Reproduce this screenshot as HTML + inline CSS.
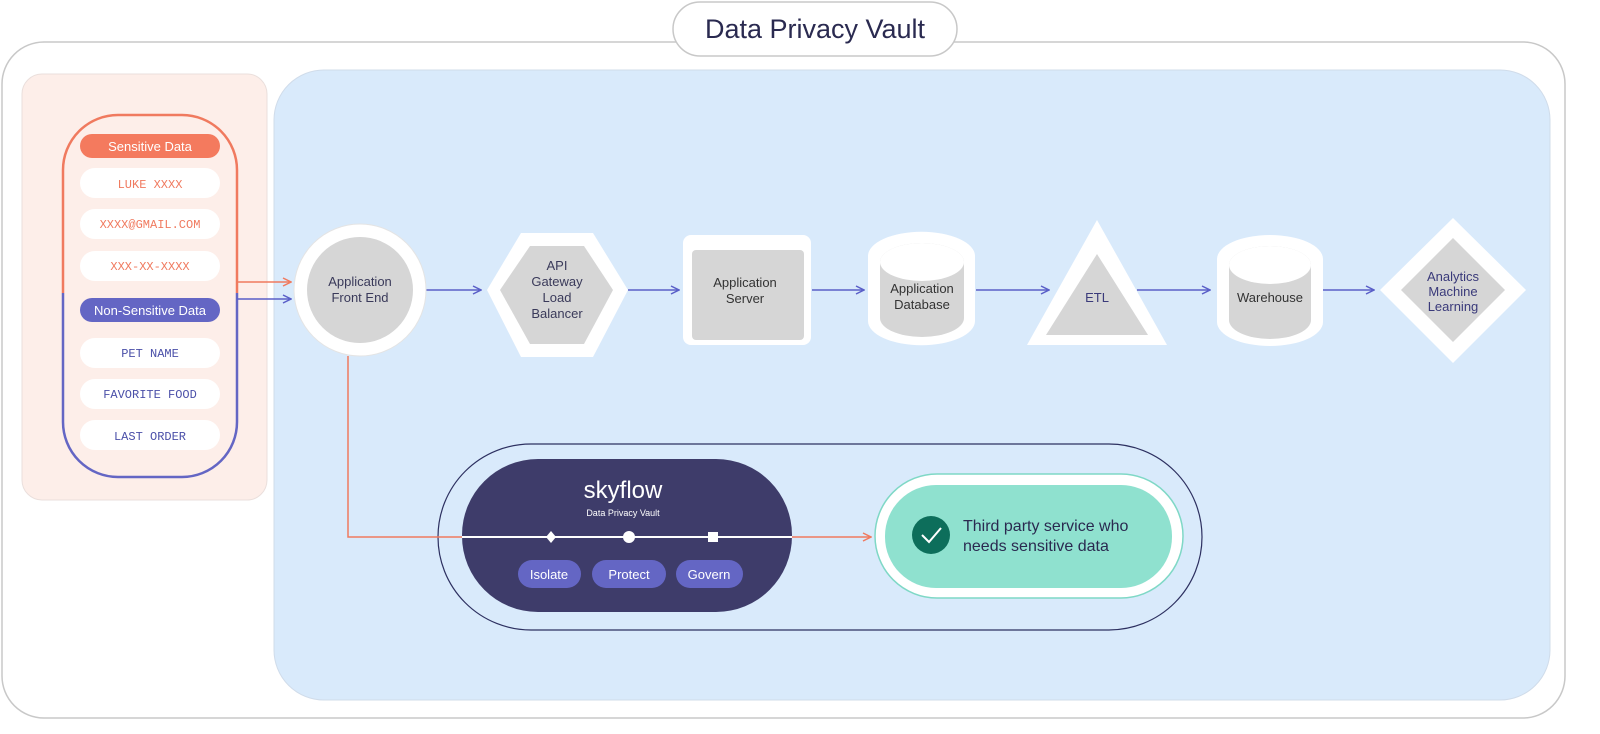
<!DOCTYPE html><html><head><meta charset="utf-8"><style>body{margin:0;background:#fff}svg{display:block}text{font-family:"Liberation Sans",sans-serif}</style></head><body>
<svg width="1600" height="734" viewBox="0 0 1600 734" xmlns="http://www.w3.org/2000/svg">
<defs>
<marker id="ap" markerWidth="10" markerHeight="10" refX="9" refY="5" orient="auto" markerUnits="userSpaceOnUse"><path d="M1,1 L9,5 L1,9" fill="none" stroke="#5a5fc8" stroke-width="1.5"/></marker>
<marker id="ao" markerWidth="10" markerHeight="10" refX="9" refY="5" orient="auto" markerUnits="userSpaceOnUse"><path d="M1,1 L9,5 L1,9" fill="none" stroke="#f07a5f" stroke-width="1.5"/></marker>
</defs>
<rect x="2" y="42" width="1563" height="676" rx="42" fill="#fff" stroke="#c8c8c8" stroke-width="1.5"/>
<rect x="673" y="2" width="284" height="54" rx="27" fill="#fff" stroke="#c8c8c8" stroke-width="1.5"/>
<text x="815" y="38" font-size="27" fill="#2a2a50" text-anchor="middle">Data Privacy Vault</text>
<rect x="22" y="74" width="245" height="426" rx="20" fill="#fdeee9" stroke="#eadfdc"/>
<rect x="274" y="70" width="1276" height="630" rx="50" fill="#d9eafb" stroke="#d0dcea"/>
<!-- capsule -->
<path d="M63,293 V170 A55,55 0 0 1 118,115 H182 A55,55 0 0 1 237,170 V293" fill="none" stroke="#f07a5f" stroke-width="2.5"/>
<path d="M63,293 V422 A55,55 0 0 0 118,477 H182 A55,55 0 0 0 237,422 V293" fill="none" stroke="#6466c4" stroke-width="2.5"/>
<rect x="80" y="134" width="140" height="24" rx="12" fill="#f47a5e"/>
<text x="150" y="151" font-size="13" fill="#fff" text-anchor="middle">Sensitive Data</text>
<rect x="80" y="298" width="140" height="24" rx="12" fill="#6466c4"/>
<text x="150" y="315" font-size="13" fill="#fff" text-anchor="middle">Non-Sensitive Data</text>
<g font-family="Liberation Mono,monospace" font-size="12" text-anchor="middle">
<rect x="80" y="168" width="140" height="30" rx="15" fill="#fff"/><text x="150" y="188" fill="#f07a5f" style="font-family:'Liberation Mono',monospace">LUKE XXXX</text>
<rect x="80" y="209" width="140" height="30" rx="15" fill="#fff"/><text x="150" y="228" fill="#f07a5f" style="font-family:'Liberation Mono',monospace">XXXX@GMAIL.COM</text>
<rect x="80" y="251" width="140" height="30" rx="15" fill="#fff"/><text x="150" y="270" fill="#f07a5f" style="font-family:'Liberation Mono',monospace">XXX-XX-XXXX</text>
<rect x="80" y="338" width="140" height="30" rx="15" fill="#fff"/><text x="150" y="357" fill="#4a4fa8" style="font-family:'Liberation Mono',monospace">PET NAME</text>
<rect x="80" y="379" width="140" height="30" rx="15" fill="#fff"/><text x="150" y="398" fill="#4a4fa8" style="font-family:'Liberation Mono',monospace">FAVORITE FOOD</text>
<rect x="80" y="420" width="140" height="30" rx="15" fill="#fff"/><text x="150" y="440" fill="#4a4fa8" style="font-family:'Liberation Mono',monospace">LAST ORDER</text>
</g>
<!-- arrows -->
<line x1="237" y1="282" x2="291" y2="282" stroke="#f07a5f" stroke-width="1.5" marker-end="url(#ao)"/>
<line x1="237" y1="299" x2="291" y2="299" stroke="#5a5fc8" stroke-width="1.5" marker-end="url(#ap)"/>
<g stroke="#5a5fc8" stroke-width="1.5" fill="none">
<line x1="426" y1="290" x2="481" y2="290" marker-end="url(#ap)"/>
<line x1="628" y1="290" x2="679" y2="290" marker-end="url(#ap)"/>
<line x1="812" y1="290" x2="864" y2="290" marker-end="url(#ap)"/>
<line x1="976" y1="290" x2="1049" y2="290" marker-end="url(#ap)"/>
<line x1="1137" y1="290" x2="1210" y2="290" marker-end="url(#ap)"/>
<line x1="1323" y1="290" x2="1374" y2="290" marker-end="url(#ap)"/>
</g>
<!-- nodes -->
<g font-size="13" fill="#333" text-anchor="middle">
<circle cx="360" cy="290" r="66" fill="#fff" stroke="#e4e4e4"/><circle cx="360" cy="290" r="53" fill="#d6d6d6"/>
<text x="360" y="286" fill="#3a3a5a">Application</text><text x="360" y="302" fill="#3a3a5a">Front End</text>
<polygon points="521,233 593,233 628,290 593,357 521,357 487,290" fill="#fff"/>
<polygon points="530,246 584,246 613,290 584,344 530,344 500,290" fill="#d6d6d6"/>
<text x="557" y="270" fill="#3a3a5a">API</text><text x="557" y="286" fill="#3a3a5a">Gateway</text><text x="557" y="302" fill="#3a3a5a">Load</text><text x="557" y="318" fill="#3a3a5a">Balancer</text>
<rect x="683" y="235" width="128" height="110" rx="8" fill="#fff"/><rect x="692" y="250" width="112" height="90" rx="4" fill="#d6d6d6"/>
<text x="745" y="287" fill="#333">Application</text><text x="745" y="303" fill="#333">Server</text>
<path d="M868,256 A53,24 0 0 1 975,256 V321 A53,24 0 0 1 868,321 Z" fill="#fff"/>
<path d="M880,262 A42,19 0 0 1 964,262 V318 A42,19 0 0 1 880,318 Z" fill="#d6d6d6"/>
<ellipse cx="922" cy="262" rx="42" ry="19" fill="#fff"/>
<text x="922" y="293" fill="#333">Application</text><text x="922" y="309" fill="#333">Database</text>
<polygon points="1097,220 1167,345 1027,345" fill="#fff"/><polygon points="1097,254 1148,335 1046,335" fill="#d6d6d6"/>
<text x="1097" y="302" fill="#3a3a7a">ETL</text>
<path d="M1217,259 A53,24 0 0 1 1323,259 V322 A53,24 0 0 1 1217,322 Z" fill="#fff"/>
<path d="M1229,265 A41,19 0 0 1 1311,265 V320 A41,19 0 0 1 1229,320 Z" fill="#d6d6d6"/>
<ellipse cx="1270" cy="265" rx="41" ry="19" fill="#fff"/>
<text x="1270" y="302" fill="#333">Warehouse</text>
<polygon points="1453,218 1526,290 1453,363 1380,290" fill="#fff"/>
<polygon points="1453,238 1505,290 1453,342 1401,290" fill="#d6d6d6"/>
<text x="1453" y="281" fill="#3a3a7a">Analytics</text><text x="1453" y="296" fill="#3a3a7a">Machine</text><text x="1453" y="311" fill="#3a3a7a">Learning</text>
</g>
<!-- vault -->
<rect x="438" y="444" width="764" height="186" rx="93" fill="none" stroke="#2d3060" stroke-width="1.2"/>
<path d="M348,356 V537 H871" fill="none" stroke="#f07a5f" stroke-width="1.5" marker-end="url(#ao)"/>
<rect x="462" y="459" width="330" height="153" rx="76" fill="#3e3c6a"/>
<text x="623" y="498" font-size="24" fill="#fff" text-anchor="middle">skyflow</text>
<text x="623" y="516" font-size="9" fill="#fff" text-anchor="middle">Data Privacy Vault</text>
<line x1="462" y1="537" x2="792" y2="537" stroke="#fff" stroke-width="2"/>
<polygon points="551,531 556,537 551,543 546,537" fill="#fff"/>
<circle cx="629" cy="537" r="6" fill="#fff"/>
<rect x="708" y="532" width="10" height="10" fill="#fff"/>
<g font-size="13" fill="#fff" text-anchor="middle">
<rect x="518" y="560" width="63" height="28" rx="14" fill="#6466c4"/><text x="549" y="579">Isolate</text>
<rect x="592" y="560" width="74" height="28" rx="14" fill="#6466c4"/><text x="629" y="579">Protect</text>
<rect x="676" y="560" width="67" height="28" rx="14" fill="#6466c4"/><text x="709" y="579">Govern</text>
</g>
<rect x="875" y="474" width="308" height="124" rx="62" fill="#fff" stroke="#7fd8c6" stroke-width="1.5"/>
<rect x="885" y="485" width="287" height="103" rx="51" fill="#8fe1cf"/>
<circle cx="931" cy="535" r="19" fill="#0d6e5b"/>
<path d="M922,535 L929,542 L941,528" fill="none" stroke="#fff" stroke-width="2"/>
<text x="963" y="531" font-size="16" fill="#2a2a50">Third party service who</text>
<text x="963" y="551" font-size="16" fill="#2a2a50">needs sensitive data</text>
</svg></body></html>
